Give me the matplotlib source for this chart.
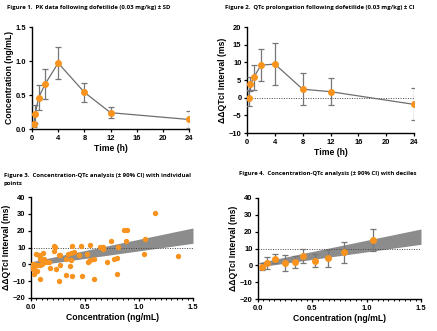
import numpy as np
import matplotlib.pyplot as plt
from matplotlib.ticker import MultipleLocator

# PK profile (mean +/- SD)
pk_time = [0.25, 0.5, 1, 2, 4, 8, 12, 24]
pk_conc = [0.07, 0.22, 0.46, 0.66, 0.97, 0.54, 0.24, 0.14]
pk_sd = [0.04, 0.13, 0.18, 0.22, 0.23, 0.14, 0.085, 0.12]

# ddQTc time course (mean +/- CI)
qt_time = [0.25, 0.5, 1, 2, 4, 8, 12, 24]
qt_mean = [0.0, 3.8, 5.8, 9.2, 9.5, 2.4, 1.7, -1.9]
qt_ci = [2.3, 2.0, 3.5, 4.6, 6.0, 4.5, 3.9, 4.5]

# individual concentration / ddQTc pairs
ind_conc = [1.15, 0.86, 0.89, 0.88, 0.74, 1.06, 1.05, 1.36, 0.81, 0.80,
            0.77, 0.70, 0.80, 0.64, 0.67, 0.67, 0.55, 0.58, 0.54, 0.53,
            0.55, 0.52, 0.58, 0.47, 0.46, 0.44, 0.38, 0.40, 0.37, 0.34,
            0.37, 0.36, 0.38, 0.32, 0.32, 0.26, 0.27, 0.27, 0.26, 0.21,
            0.22, 0.21, 0.23, 0.17, 0.18, 0.14, 0.12, 0.11, 0.08, 0.05,
            0.07, 0.08, 0.10, 0.08, 0.06, 0.04, 0.02, 0.03, 0.02, 0.03,
            0.06, 0.08, 0.10, 0.01, 0.015]
ind_dqt = [30.5, 20.6, 20.2, 13.7, 13.7, 15.2, 6.3, 5.1, 10.1, 3.6,
           3.0, 1.2, -5.5, 10.1, 10.5, 9.1, 11.5, 3.0, 2.0, 1.2,
           2.4, 6.3, -8.7, -6.7, 10.7, 5.5, 10.7, 7.1, 6.9, 6.1,
           2.4, -1.0, -6.9, 3.2, -6.1, 5.7, 5.7, -0.4, -10.1, 10.7,
           10.3, 8.1, -2.8, 1.4, -2.0, 1.4, 3.0, 6.7, 3.4, 6.3,
           5.3, 4.2, 2.6, -0.2, -0.6, -0.6, 0.0, -1.6, -2.6, -5.5,
           -4.2, -8.7, 0.4, -0.6, -1.6]

# concentration deciles (mean +/- CI)
dec_conc = [0.037, 0.086, 0.16, 0.25, 0.34, 0.41, 0.52, 0.64, 0.79, 1.06]
dec_dqt = [-0.7, 1.2, 4.0, 1.6, 2.0, 5.7, 2.8, 4.1, 7.7, 15.1]
dec_ci = [2.2, 3.5, 2.9, 4.8, 3.3, 4.2, 3.9, 4.8, 6.1, 6.3]

# model-predicted 90% CI band
band_x = [0.02, 1.5]
band_lo = [-0.8, 12.5]
band_hi = [1.8, 21.6]

ORANGE = '#F7931E'
GREY = '#6E6E6E'
plt.rcParams['font.family'] = ['Liberation Sans', 'DejaVu Sans']
plt.rcParams['font.weight'] = 'bold'

W, H = 437, 331
fig = plt.figure(figsize=(W / 100, H / 100), dpi=100)


def make_axes(x0, y0, x1, y1):
    ax = fig.add_axes([x0 / W, 1 - y1 / H, (x1 - x0) / W, (y1 - y0) / H])
    for s in ('top', 'right'):
        ax.spines[s].set_visible(False)
    for s in ('left', 'bottom'):
        ax.spines[s].set_linewidth(1.0)
    ax.tick_params(labelsize=5.4, width=0.9, length=2.5, pad=1.5)
    ax.tick_params(which='minor', width=0.7, length=1.5)
    return ax


title_kw = dict(fontsize=4.3, fontweight='bold', family=['Open Sans', 'DejaVu Sans'], ha='left', va='center')
lab_kw = dict(fontsize=6.2, fontweight='bold', labelpad=1.5)
err_kw = dict(elinewidth=0.9, capsize=2, capthick=0.9, ecolor='#777777',
              marker='o', ms=4, mfc=ORANGE, mec=ORANGE, zorder=3)

# Figure 1
ax1 = make_axes(32, 27, 189, 129)
ax1.errorbar(pk_time, pk_conc, yerr=pk_sd, color=GREY, lw=0.9, **err_kw)
ax1.set_xlim(0, 24)
ax1.set_ylim(0, 1.5)
ax1.xaxis.set_major_locator(MultipleLocator(4))
ax1.yaxis.set_major_locator(MultipleLocator(0.5))
ax1.set_xlabel('Time (h)', **lab_kw)
ax1.set_ylabel('Concentration (ng/mL)', **lab_kw)
fig.text(7 / W, 1 - 7 / H, 'Figure 1.  PK data following dofetilide (0.03 mg/kg) \u00b1 SD', **title_kw)

# Figure 2
ax2 = make_axes(247, 27, 414, 133)
ax2.plot([0, 24], [0, 0], ls=(0, (1, 1.5)), color='#444444', lw=0.7, zorder=1)
ax2.errorbar(qt_time, qt_mean, yerr=qt_ci, color=GREY, lw=0.9, **err_kw)
ax2.set_xlim(0, 24)
ax2.set_ylim(-10, 20)
ax2.xaxis.set_major_locator(MultipleLocator(4))
ax2.yaxis.set_major_locator(MultipleLocator(5))
ax2.set_xlabel('Time (h)', **lab_kw)
ax2.set_ylabel('\u0394\u0394QTcI Interval (ms)', **lab_kw)
fig.text(225 / W, 1 - 7 / H, 'Figure 2.  QTc prolongation following dofetilide (0.03 mg/kg) \u00b1 CI', **title_kw)

# Figure 3
ax3 = make_axes(31, 197, 193, 298)
ax3.fill_between(band_x, band_lo, band_hi, color='#8C8C8C', lw=0, zorder=1)
ax3.plot([0, 1.5], [10, 10], ls=(0, (1, 1.5)), color='#444444', lw=0.7, zorder=2)
ax3.scatter(ind_conc, ind_dqt, s=15, color=ORANGE, lw=0, zorder=3)
ax3.set_xlim(0, 1.5)
ax3.set_ylim(-20, 40)
ax3.xaxis.set_major_locator(MultipleLocator(0.5))
ax3.xaxis.set_minor_locator(MultipleLocator(0.05))
ax3.yaxis.set_major_locator(MultipleLocator(10))
ax3.set_xlabel('Concentration (ng/mL)', **lab_kw)
ax3.set_ylabel('\u0394\u0394QTcI Interval (ms)', **lab_kw)
fig.text(4 / W, 1 - 175 / H, 'Figure 3.  Concentration-QTc analysis (\u00b1 90% CI) with individual', **title_kw)
fig.text(4 / W, 1 - 184 / H, 'points', **title_kw)

# Figure 4
ax4 = make_axes(258, 198, 421, 299)
ax4.fill_between(band_x, band_lo, band_hi, color='#8C8C8C', lw=0, zorder=1)
ax4.plot([0, 1.5], [10, 10], ls=(0, (1, 1.5)), color='#444444', lw=0.7, zorder=2)
ax4.errorbar(dec_conc, dec_dqt, yerr=dec_ci, ls='none', **err_kw)
ax4.set_xlim(0, 1.5)
ax4.set_ylim(-20, 40)
ax4.xaxis.set_major_locator(MultipleLocator(0.5))
ax4.xaxis.set_minor_locator(MultipleLocator(0.05))
ax4.yaxis.set_major_locator(MultipleLocator(10))
ax4.set_xlabel('Concentration (ng/mL)', **lab_kw)
ax4.set_ylabel('\u0394\u0394QTcI Interval (ms)', **lab_kw)
fig.text(239 / W, 1 - 174 / H, 'Figure 4.  Concentration-QTc analysis (\u00b1 90% CI) with deciles', **title_kw)

fig.savefig('out.png', dpi=100)
